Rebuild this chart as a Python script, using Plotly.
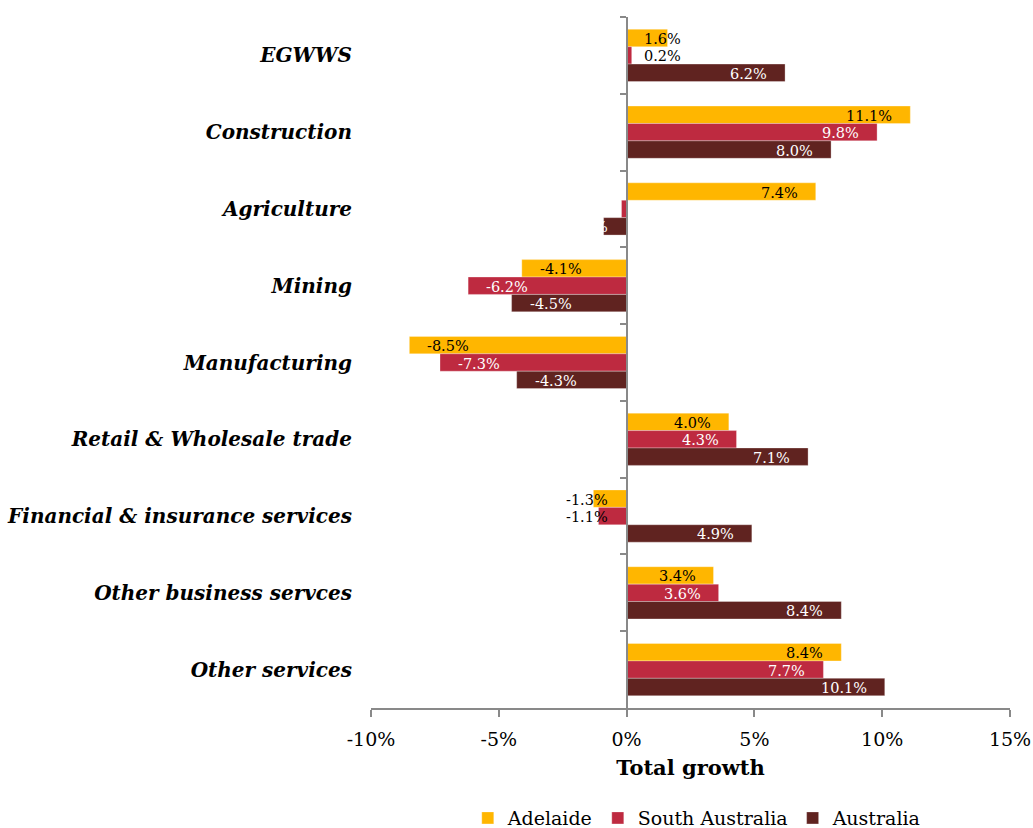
import plotly.graph_objects as go

categories = ["EGWWS", "Construction", "Agriculture", "Mining", "Manufacturing",
              "Retail & Wholesale trade", "Financial & insurance services",
              "Other business servces", "Other services"]
series_names = ["Adelaide", "South Australia", "Australia"]
adelaide = [1.6, 11.1, 7.4, -4.1, -8.5, 4.0, -1.3, 3.4, 8.4]
south_australia = [0.2, 9.8, -0.2, -6.2, -7.3, 4.3, -1.1, 3.6, 7.7]
australia = [6.2, 8.0, -0.9, -4.5, -4.3, 7.1, 4.9, 8.4, 10.1]
x_ticks = [-10, -5, 0, 5, 10, 15]
x_tick_labels = ["-10%", "-5%", "0%", "5%", "10%", "15%"]

colors = ["#FFB600", "#BE2A40", "#602320"]
label_colors = [
    ["#000000"] * 9,
    ["#000000", "#FFFFFF", "#FFFFFF", "#FFFFFF", "#FFFFFF", "#FFFFFF", "#000000", "#FFFFFF", "#FFFFFF"],
    ["#FFFFFF"] * 9,
]
series = [adelaide, south_australia, australia]

FONT = "DejaVu Serif"
fig = go.Figure()
for name, vals, col in zip(series_names, series, colors):
    fig.add_trace(go.Bar(
        y=categories, x=vals, name=name, orientation="h",
        marker=dict(color=col, line=dict(color="rgba(255,255,255,0.6)", width=0.5)),
        hoverinfo="skip",
    ))

# invisible trace to carry the zero-crossing category axis
fig.add_trace(go.Scatter(x=[0] * len(categories), y=categories, yaxis="y2",
                         mode="markers", marker=dict(opacity=0), showlegend=False,
                         hoverinfo="skip"))

px_per_unit = 639 / 25.0
offsets = [-1 / 3, 0, 1 / 3]
annotations = []
for si, vals in enumerate(series):
    for ci, v in enumerate(vals):
        txt = f"{v:.1f}%"
        tw = len(txt) * 8.8
        bar_px = abs(v) * px_per_unit
        fits = bar_px >= tw + 30
        if v >= 0:
            if fits:
                ax_x, anchor, shift = v, "right", -16
            else:
                ax_x, anchor, shift = 0, "left", 15
        else:
            if fits:
                ax_x, anchor, shift = v, "left", 16
            else:
                ax_x, anchor, shift = 0, "right", -17
        annotations.append(dict(
            x=ax_x, y=ci + offsets[si] * 0.68, xref="x", yref="y",
            text=txt, showarrow=False, xanchor=anchor, xshift=shift,
            yanchor="middle", yshift=-1,
            font=dict(family=FONT, size=14.5, color=label_colors[si][ci]),
        ))

# partially visible (clipped) chart title at the very top
annotations.append(dict(
    x=-0.36, y=1, xref="paper", yref="paper", xanchor="left", yanchor="bottom",
    yshift=16, showarrow=False,
    text="<b>Figure 4: Employment growth by industry, Adelaide, South Australia and Australia, 2009–2014</b>",
    font=dict(family=FONT, size=21, color="#B22222"),
))

fig.update_layout(
    width=1033, height=828,
    margin=dict(l=371, r=23, t=17, b=120, autoexpand=False),
    paper_bgcolor="white", plot_bgcolor="white",
    barmode="group", bargap=0.32, bargroupgap=0,
    font=dict(family=FONT, size=18, color="#000000"),
    xaxis=dict(
        range=[-10, 15], tickvals=x_ticks, ticktext=x_tick_labels,
        showgrid=False, zeroline=False, automargin=False,
        showline=True, linecolor="#898989", linewidth=1.5,
        ticks="outside", ticklen=7, tickcolor="#898989", tickwidth=1.5,
        ticklabelstandoff=6,
        tickfont=dict(family=FONT, size=19),
        title=dict(text="<b>Total growth</b>", font=dict(family=FONT, size=21), standoff=12),
        fixedrange=True,
    ),
    yaxis=dict(
        type="category", categoryorder="array", categoryarray=categories,
        autorange="reversed", showgrid=False, zeroline=False, showline=False,
        automargin=False,
        ticks="outside", ticklen=14, tickcolor="rgba(0,0,0,0)",
        tickfont=dict(family=FONT, size=20, color="#000000"),
        ticktext=[f"<b><i>{c}</i></b>" for c in categories], tickvals=categories,
        fixedrange=True,
    ),
    yaxis2=dict(
        type="category", categoryorder="array", categoryarray=categories,
        overlaying="y", matches="y", anchor="free", position=0.4, side="left",
        automargin=False,
        showgrid=False, zeroline=False, showline=True, linecolor="#898989", linewidth=1.5,
        ticks="outside", ticklen=6, tickcolor="#898989", tickwidth=1.5,
        tickson="boundaries", showticklabels=False, fixedrange=True,
    ),
    legend=dict(orientation="h", x=0.675, xanchor="center", xref="container",
                y=0.012, yanchor="middle", yref="container",
                font=dict(family=FONT, size=19), itemwidth=30, traceorder="normal",
                tracegroupgap=0),
    annotations=annotations,
    showlegend=True,
)

fig.write_html("out.html", config={"displayModeBar": False},
               post_script="document.body.style.margin='0px';document.body.style.overflow='hidden';")
